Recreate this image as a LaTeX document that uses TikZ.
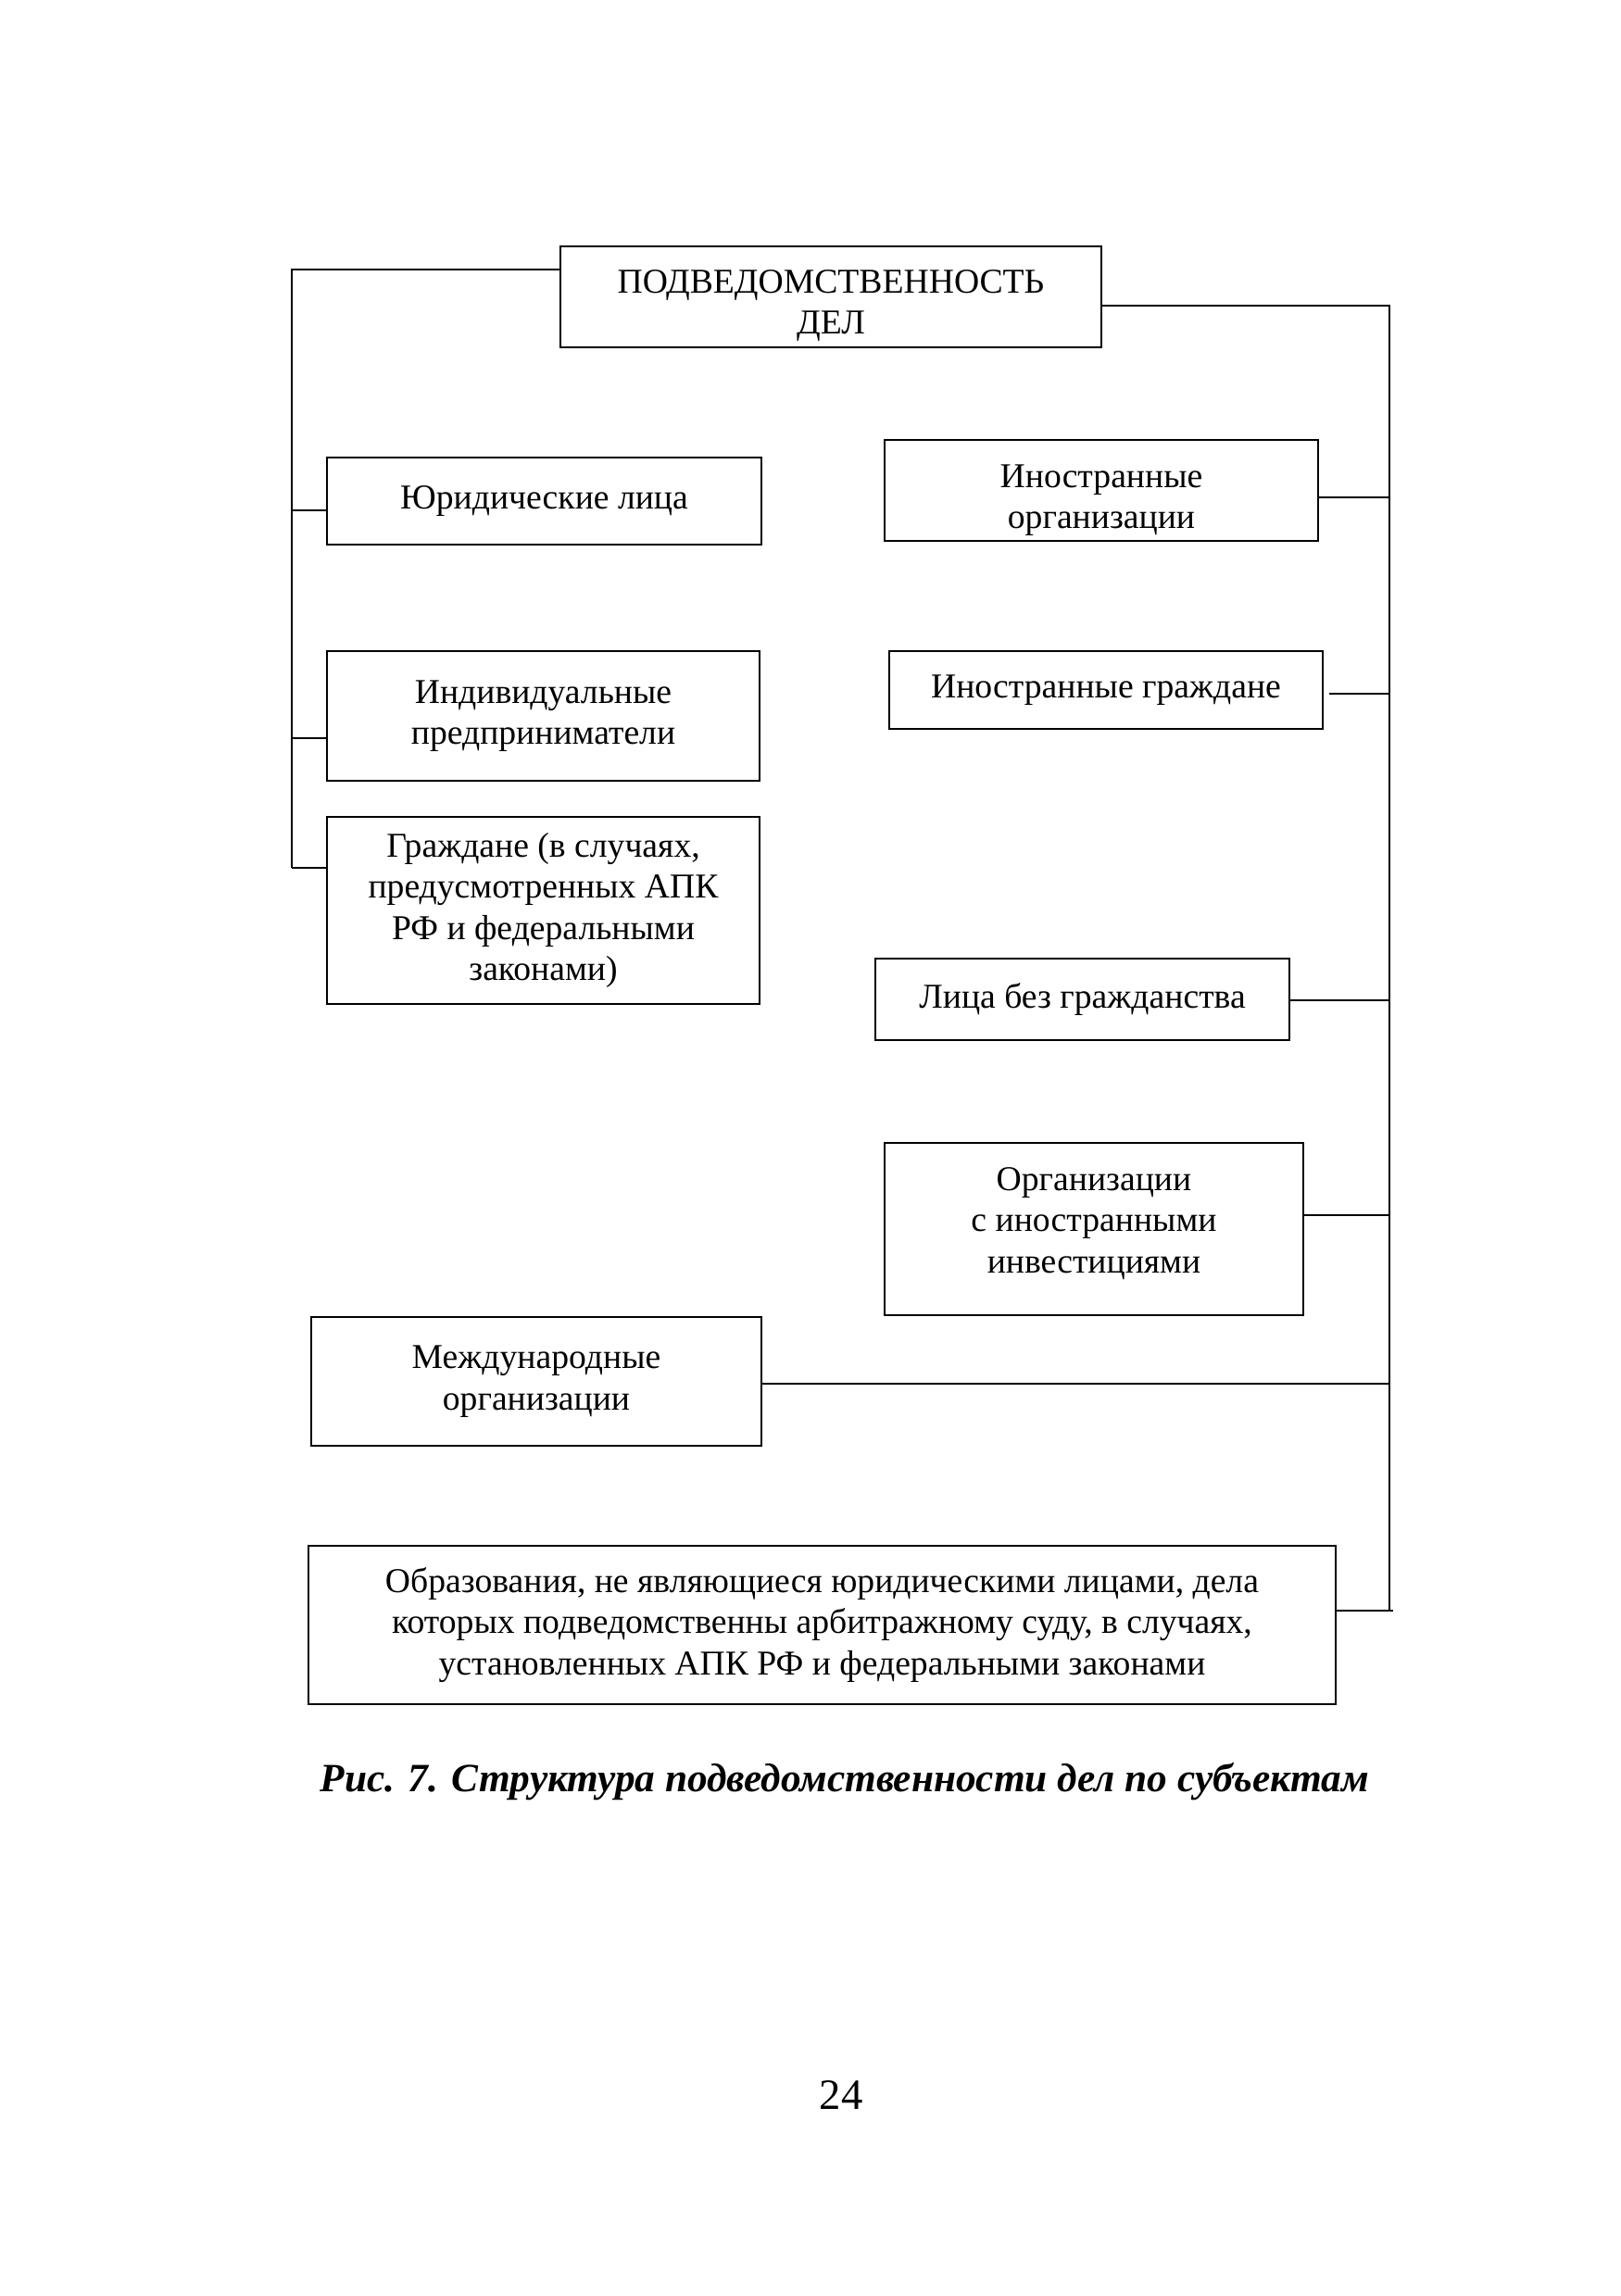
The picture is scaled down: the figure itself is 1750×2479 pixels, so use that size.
\documentclass[tikz,border=0pt]{standalone}
\usepackage{fontspec}
\setmainfont{Liberation Serif}
\begin{document}
\begin{tikzpicture}[x=0.3pt,y=-0.3pt,
  box/.style={draw, line width=0.7pt, inner sep=0pt, outer sep=0pt, align=center,
    font=\fontsize{11.3}{13.3}\selectfont},
  txt/.style={inner sep=0pt, align=center, font=\fontsize{11.3}{13.3}\selectfont},
  wire/.style={line width=0.7pt}]
\useasboundingbox (0,0) rectangle (1750,2479);
% boxes
\node[box, minimum width=175.2pt, minimum height=32.7pt] (top) at (897,320.5) {};
\node[txt] (toptext) at ([yshift=-2.9pt]top.center) {ПОДВЕДОМСТВЕННОСТЬ\\ДЕЛ};
\node[box, minimum width=140.7pt, minimum height=28.2pt] (jur) at (587.5,541) {Юридические лица};
\node[box, minimum width=140.4pt, minimum height=32.7pt] (inorg) at (1189,529.5) {};
\node[txt] (inorgtext) at ([yshift=-3.2pt]inorg.center) {Иностранные\\организации};
\node[box, minimum width=140.1pt, minimum height=42pt] (ind) at (586.5,773) {Индивидуальные\\предприниматели};
\node[box, minimum width=140.4pt, minimum height=25.2pt] (ingr) at (1194,745) {Иностранные граждане};
\node[box, minimum width=140.1pt, minimum height=60.6pt] (grazh) at (586.5,983) {Граждане (в случаях,\\предусмотренных АПК\\РФ и федеральными\\законами)};
\node[box, minimum width=134.1pt, minimum height=26.4pt] (lbg) at (1168.5,1079) {Лица без гражданства};
\node[box, minimum width=135.6pt, minimum height=55.8pt] (orgin) at (1181,1327) {};
\node[txt] (orgintext) at ([yshift=1.8pt]orgin.center) {Организации\\с иностранными\\инвестициями};
\node[box, minimum width=145.8pt, minimum height=41.7pt] (mezh) at (579,1491.5) {Международные\\организации};
\node[box, minimum width=332.7pt, minimum height=51.3pt] (obr) at (887.5,1754.5) {Образования, не являющиеся юридическими лицами, дела\\которых подведомственны арбитражному суду, в случаях,\\установленных АПК РФ и федеральными законами};
% caption and page number
\node[font=\fontsize{13}{15}\selectfont\bfseries\itshape, inner sep=0pt] (cap) at (912,1924) {Рис. 7. Структура подведомственности дел по субъектам};
\node[font=\fontsize{14}{16}\selectfont, inner sep=0pt] (page) at (908,2262) {24};
% bus coordinates
\coordinate (lt) at (315,291);
\coordinate (l1) at (315,551);
\coordinate (l2) at (315,797);
\coordinate (l3) at (315,937);
\coordinate (rt) at (1500,330);
\coordinate (r1) at (1500,537);
\coordinate (r2) at (1500,749);
\coordinate (r3) at (1500,1080);
\coordinate (r4) at (1500,1312);
\coordinate (r5) at (1500,1494);
\coordinate (r6) at (1500,1739);
\coordinate (r6e) at (1504,1739);
% left bus
\draw[wire] (top.west |- lt) -- (lt) -- (l3);
\draw[wire] (l1) -- (jur.west |- l1);
\draw[wire] (l2) -- (ind.west |- l2);
\draw[wire] (l3) -- (grazh.west |- l3);
% right bus
\draw[wire] (top.east |- rt) -- (rt) -- (r6);
\draw[wire] (inorg.east |- r1) -- (r1);
\draw[wire, shorten <=2pt] (ingr.east |- r2) -- (r2);
\draw[wire] (lbg.east |- r3) -- (r3);
\draw[wire] (orgin.east |- r4) -- (r4);
\draw[wire] (mezh.east |- r5) -- (r5);
\draw[wire] (obr.east |- r6) -- (r6e);
\end{tikzpicture}
\end{document}
